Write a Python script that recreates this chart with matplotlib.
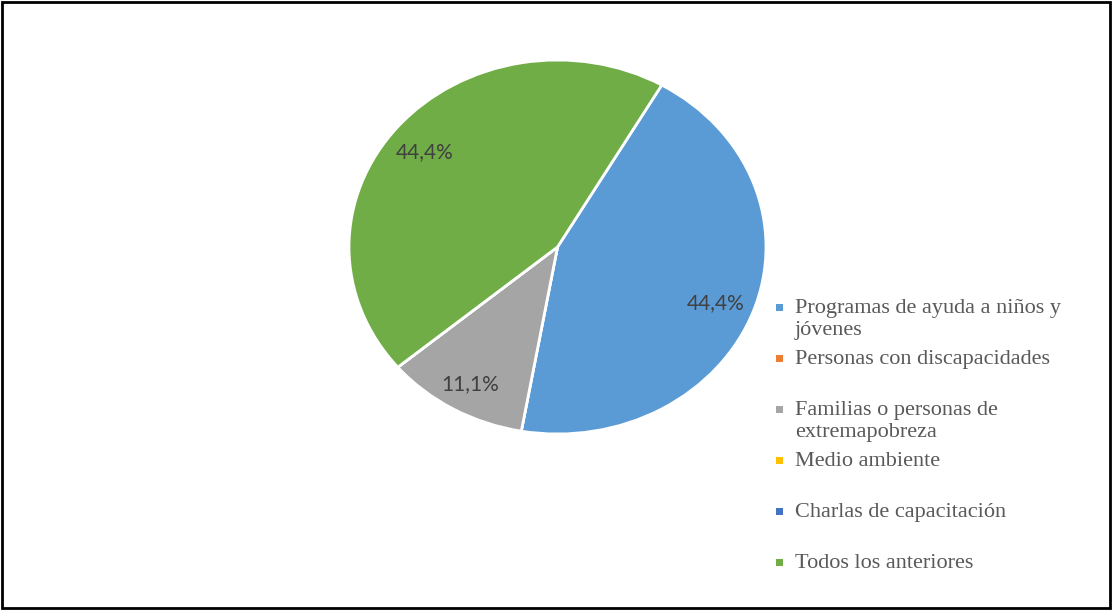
import matplotlib
matplotlib.use("Agg")
import matplotlib.pyplot as plt
from matplotlib.patches import Rectangle

categories = [
    "Programas de ayuda a niños y\njóvenes",
    "Personas con discapacidades",
    "Familias o personas de\nextremapobreza",
    "Medio ambiente",
    "Charlas de capacitación",
    "Todos los anteriores",
]
values = [44.4, 0.0, 11.1, 0.0, 0.0, 44.4]
colors = ["#5B9BD5", "#ED7D31", "#A5A5A5", "#FFC000", "#4472C4", "#70AD47"]

W, H = 1112, 610
fig = plt.figure(figsize=(W / 100, H / 100), dpi=100)
fig.patch.set_facecolor("white")

def fx(px):
    return px / W

def fy(py):
    return 1 - py / H

# pie axes (slightly elliptical like the original)
left, right, top, bottom = 349, 766, 60, 434
ax = fig.add_axes([fx(left), fy(bottom), (right - left) / W, (bottom - top) / H])

def fmt(p):
    return (f"{p:.1f}%".replace(".", ",")) if p > 0.05 else ""

wedges, texts, autotexts = ax.pie(
    values,
    colors=colors,
    startangle=60,
    counterclock=False,
    autopct=fmt,
    pctdistance=0.82,
    radius=1.0,
    wedgeprops=dict(edgecolor="white", linewidth=2),
    textprops=dict(color="#404040", fontsize=15, family=["Lato", "DejaVu Sans"]),
)
ax.set_aspect("auto")
ax.set_xlim(-1, 1)
ax.set_ylim(-1, 1)
ax.axis("off")
dy = 4 / ((bottom - top) / 2)
for t in autotexts:
    x, y = t.get_position()
    t.set_position((x - 0.01, y - dy))

# legend drawn manually to mimic Excel layout
leg_x_marker = 779
leg_x_text = 795
y0 = 307
step = 51
fs = 16
for i, (lab, col) in enumerate(zip(categories, colors)):
    yc = y0 + step * i
    s = 7
    fig.patches.append(Rectangle((fx(leg_x_marker - s / 2), fy(yc + s / 2)), s / W, s / H,
                                 transform=fig.transFigure, facecolor=col, edgecolor="none"))
    fig.text(fx(leg_x_text), fy(yc - 8), lab, ha="left", va="top",
             fontsize=fs, color="#595959", family=["Liberation Serif", "DejaVu Serif"],
             linespacing=1.2)

# outer border
fig.patches.append(Rectangle((fx(1.5), fy(607.5)), (1108) / W, (606) / H,
                             transform=fig.transFigure, facecolor="none",
                             edgecolor="black", linewidth=2))

fig.savefig("out.png", dpi=100, facecolor="white")
